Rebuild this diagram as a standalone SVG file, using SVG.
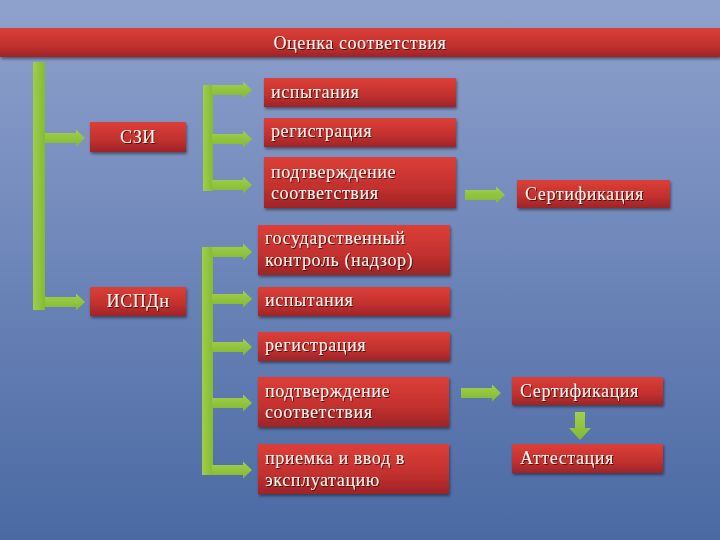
<svg xmlns="http://www.w3.org/2000/svg" width="720" height="540" viewBox="0 0 720 540">
<defs>
<linearGradient id="bg" x1="0" y1="0" x2="0" y2="1">
<stop offset="0" stop-color="#8fa1cd"/>
<stop offset="1" stop-color="#4a69a3"/>
</linearGradient>
<linearGradient id="red" x1="0" y1="0" x2="0" y2="1">
<stop offset="0" stop-color="#dc3f38"/>
<stop offset="0.6" stop-color="#c2302e"/>
<stop offset="1" stop-color="#9e2427"/>
</linearGradient>
<linearGradient id="grn" x1="0" y1="0" x2="0" y2="1">
<stop offset="0" stop-color="#a2d04a"/>
<stop offset="1" stop-color="#82b834"/>
</linearGradient>
<linearGradient id="grnv" x1="0" y1="0" x2="1" y2="0">
<stop offset="0" stop-color="#9fce48"/>
<stop offset="1" stop-color="#84ba36"/>
</linearGradient>
<filter id="sh" x="-10%" y="-20%" width="125%" height="160%">
<feGaussianBlur in="SourceAlpha" stdDeviation="1.5"/>
<feOffset dx="1" dy="2" result="o"/>
<feComponentTransfer><feFuncA type="linear" slope="0.45"/></feComponentTransfer>
<feMerge><feMergeNode/><feMergeNode in="SourceGraphic"/></feMerge>
</filter>
<filter id="tsh" x="-5%" y="-20%" width="110%" height="150%">
<feGaussianBlur in="SourceAlpha" stdDeviation="0.6"/>
<feOffset dx="1" dy="1"/>
<feComponentTransfer><feFuncA type="linear" slope="0.6"/></feComponentTransfer>
<feMerge><feMergeNode/><feMergeNode in="SourceGraphic"/></feMerge>
</filter>
<path id="arr" d="M0,-5 H31 V-8.5 L40,0 L31,8.5 V5 H0 Z"/>
</defs>
<style>
.box{fill:url(#red);filter:url(#sh)}
.t{font-family:"Liberation Serif","DejaVu Serif",serif;font-size:18px;letter-spacing:0.6px;fill:#fff5ee;filter:url(#tsh)}
.c{text-anchor:middle}
.g{fill:url(#grn)}
.gv{fill:url(#grnv)}
</style>
<rect width="720" height="540" fill="url(#bg)"/>

<g id="connectors">
<rect class="gv" x="33" y="62" width="12" height="248"/>
<use href="#arr" class="g" x="45" y="138"/>
<use href="#arr" class="g" x="45" y="302"/>
<rect class="gv" x="203" y="85" width="10" height="106"/>
<use href="#arr" class="g" x="212" y="90"/>
<use href="#arr" class="g" x="212" y="139"/>
<use href="#arr" class="g" x="212" y="185"/>
<rect class="gv" x="202" y="247" width="11" height="228"/>
<use href="#arr" class="g" x="212" y="252"/>
<use href="#arr" class="g" x="212" y="299"/>
<use href="#arr" class="g" x="212" y="347"/>
<use href="#arr" class="g" x="212" y="403"/>
<use href="#arr" class="g" x="212" y="470"/>
<use href="#arr" class="g" x="465" y="195"/>
<use href="#arr" class="g" x="461" y="393"/>
<path class="g" d="M575,412 H585 V428 H591 L580,440 L569,428 H575 Z"/>
</g>

<g id="title">
<rect class="box" x="0" y="28" width="720" height="29"/>
<text class="t c" x="360" y="49">Оценка соответствия</text>
</g>
<g id="szi">
<rect class="box" x="90" y="122" width="96" height="30"/>
<text class="t c" x="138" y="143">СЗИ</text>
</g>
<g id="ispdn">
<rect class="box" x="90" y="287" width="96" height="29"/>
<text class="t c" x="138" y="307">ИСПДн</text>
</g>
<g id="szi-isp">
<rect class="box" x="264" y="78" width="192" height="29"/>
<text class="t" x="271" y="98">испытания</text>
</g>
<g id="szi-reg">
<rect class="box" x="264" y="118" width="192" height="29"/>
<text class="t" x="271" y="137">регистрация</text>
</g>
<g id="szi-podt">
<rect class="box" x="264" y="157" width="192" height="51"/>
<text class="t" x="271" y="178">подтверждение</text>
<text class="t" x="271" y="199">соответствия</text>
</g>
<g id="cert1">
<rect class="box" x="517" y="180" width="153" height="28"/>
<text class="t" x="525" y="200">Сертификация</text>
</g>
<g id="isp-gos">
<rect class="box" x="258" y="225" width="192" height="50"/>
<text class="t" x="265" y="244">государственный</text>
<text class="t" x="265" y="266">контроль (надзор)</text>
</g>
<g id="isp-isp">
<rect class="box" x="258" y="287" width="192" height="29"/>
<text class="t" x="265" y="306">испытания</text>
</g>
<g id="isp-reg">
<rect class="box" x="258" y="332" width="192" height="29"/>
<text class="t" x="265" y="351">регистрация</text>
</g>
<g id="isp-podt">
<rect class="box" x="258" y="377" width="191" height="50"/>
<text class="t" x="265" y="397">подтверждение</text>
<text class="t" x="265" y="418">соответствия</text>
</g>
<g id="isp-priem">
<rect class="box" x="258" y="444" width="191" height="50"/>
<text class="t" x="265" y="464">приемка и ввод в</text>
<text class="t" x="265" y="486">эксплуатацию</text>
</g>
<g id="cert2">
<rect class="box" x="512" y="377" width="151" height="28"/>
<text class="t" x="520" y="397">Сертификация</text>
</g>
<g id="attest">
<rect class="box" x="512" y="444" width="151" height="29"/>
<text class="t" x="520" y="464">Аттестация</text>
</g>
</svg>
